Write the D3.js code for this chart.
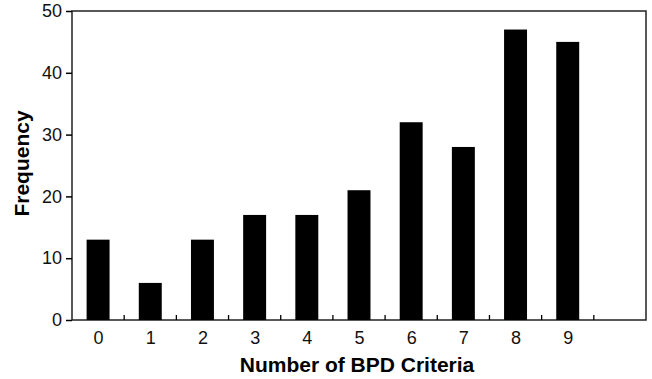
<!DOCTYPE html>
<html>
<head>
<meta charset="utf-8">
<script src="https://cdn.jsdelivr.net/npm/d3@7"></script>
<style>
    body { margin: 0; background: #fff; }
    svg { display: block; font-family: 'Liberation Sans', Arial, sans-serif; }
    .axis path, .axis line { stroke: #000; stroke-width: 1.5; }
    .axis text { font-size: 18px; fill: #111; }
</style>
</head>
<body>
<svg width="652" height="379"></svg>
<script>
const criteria = [0, 1, 2, 3, 4, 5, 6, 7, 8, 9];
const frequency = [13, 6, 13, 17, 17, 21, 32, 28, 47, 45];
const yTicks = [0, 10, 20, 30, 40, 50];

const margin = { top: 11, right: 6, bottom: 59, left: 72 };
const svg = d3.select('svg');
const width = 652 - margin.left - margin.right;
const height = 379 - margin.top - margin.bottom;

const g = svg.append('g').attr('transform', `translate(${margin.left},${margin.top})`);

// one empty slot after 9, like the original
const x = d3.scaleBand()
    .domain([...criteria, 10])
    .range([0, width])
    .paddingInner(0.56)
    .paddingOuter(0.28);

const x0 = d3.scaleLinear().domain([0, 11]).range([0, width]);

const y = d3.scaleLinear().domain([0, 50]).range([height, 0]);

// frame
g.append('rect')
    .attr('width', width)
    .attr('height', height)
    .attr('fill', 'none')
    .attr('stroke', '#222')
    .attr('stroke-width', 1.5);

g.selectAll('.bar')
    .data(criteria)
    .enter()
    .append('rect')
    .attr('class', 'bar')
    .attr('x', (d) => x0(d + 0.5) - x.bandwidth() / 2)
    .attr('width', x.bandwidth())
    .attr('y', (d, i) => y(frequency[i]))
    .attr('height', (d, i) => height - y(frequency[i]))
    .attr('fill', '#000');

const axisY = d3.axisLeft(y).tickValues(yTicks).tickSize(6).tickPadding(4);
g.append('g').attr('class', 'axis axis-y').call(axisY)
    .call((a) => a.select('.domain').remove());

// x axis: labels under bars, small ticks between bars
const axisX = d3.axisBottom(x0)
    .tickValues(criteria.map((d) => d + 0.5))
    .tickFormat((d) => d - 0.5)
    .tickSize(0)
    .tickPadding(11);
g.append('g').attr('class', 'axis axis-x')
    .attr('transform', `translate(0,${height})`)
    .call(axisX)
    .call((a) => a.select('.domain').remove());

g.append('g')
    .selectAll('line')
    .data(d3.range(1, 11))
    .enter()
    .append('line')
    .attr('x1', (d) => x0(d))
    .attr('x2', (d) => x0(d))
    .attr('y1', height)
    .attr('y2', height - 5)
    .attr('stroke', '#000')
    .attr('stroke-width', 1.3);

svg.append('text')
    .attr('x', 357)
    .attr('y', 372)
    .attr('text-anchor', 'middle')
    .style('font-size', '21px')
    .style('font-weight', 'bold')
    .text('Number of BPD Criteria');

svg.append('text')
    .attr('transform', `translate(29,${margin.top + height / 2 - 2}) rotate(-90)`)
    .attr('text-anchor', 'middle')
    .style('font-size', '21px')
    .style('font-weight', 'bold')
    .text('Frequency');
</script>
</body>
</html>
